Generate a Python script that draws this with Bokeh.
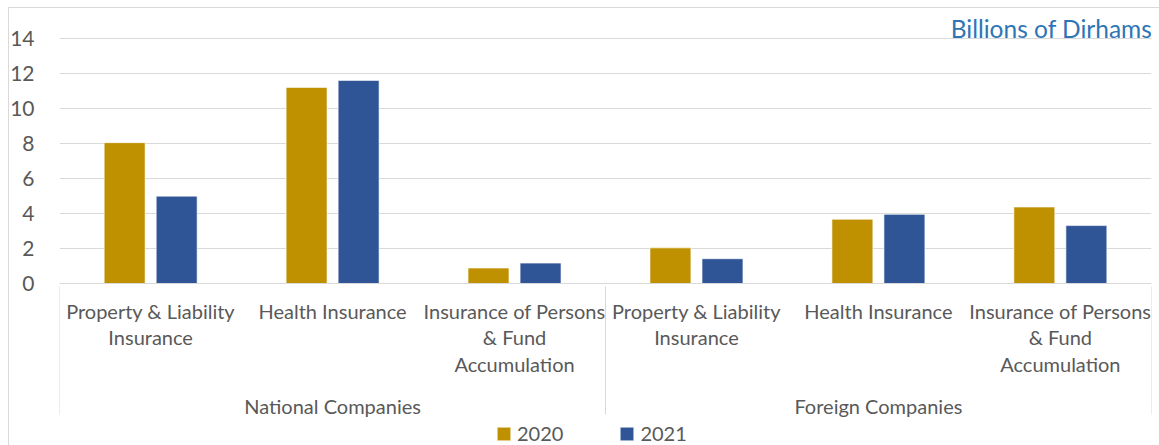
from bokeh.plotting import figure
from bokeh.models import (FactorRange, ColumnDataSource, Legend, LegendItem,
                          Label, FixedTicker)
from bokeh.transform import dodge
from bokeh.embed import file_html
from bokeh.resources import INLINE

# ---- data ----
groups = ["National Companies", "Foreign Companies"]
types = ["Property & Liability\nInsurance", "Health Insurance",
         "Insurance of Persons\n& Fund\nAccumulation"]
years = ["2020", "2021"]
v2020 = [8.05, 11.2, 0.9, 2.05, 3.68, 4.38]
v2021 = [5.0, 11.6, 1.18, 1.43, 3.96, 3.32]
y_ticks = [0, 2, 4, 6, 8, 10, 12, 14]
unit_label = "Billions of Dirhams"

# ---- styles ----
FONT = "Lato"
GOLD = "#BF9000"
BLUE = "#2F5597"
TXT = "#595959"
GRID = "#D9D9D9"

factors = [(g, t) for g in groups for t in types]
# hidden edge groups so that the axis draws its bracket lines at both ends
pad_l, pad_r = (" ", " "), ("  ", " ")
all_factors = [pad_l] + factors + [pad_r]
src = ColumnDataSource(dict(x=factors, v2020=v2020, v2021=v2021))

# the frame runs down to the page bottom; the category axis is fixed at y=0
p = figure(frame_width=1092, frame_height=430,
           x_range=FactorRange(*all_factors, group_padding=0, factor_padding=0,
                               range_padding=-0.999,
                               range_padding_units="absolute"),
           y_range=(-9.22, 15.3),
           output_backend="svg", toolbar_location=None,
           min_border_left=59, min_border_right=8, min_border_top=15,
           min_border_bottom=0)
p.outline_line_color = None
p.background_fill_color = "white"
p.border_fill_alpha = 0
p.styles = {"background": "linear-gradient(#D9D9D9,#D9D9D9) 8px 7px / 1px 100% no-repeat, "
                          "linear-gradient(#D9D9D9,#D9D9D9) 8px 7px / 100% 1px no-repeat, white"}

r1 = p.vbar(x=dodge("x", -0.143, range=p.x_range), top="v2020", width=0.225,
            source=src, fill_color=GOLD, line_color="white", line_alpha=0.6)
r2 = p.vbar(x=dodge("x", 0.143, range=p.x_range), top="v2021", width=0.225,
            source=src, fill_color=BLUE, line_color="white", line_alpha=0.6)

# y axis
p.yaxis.ticker = FixedTicker(ticks=y_ticks)
p.yaxis.axis_line_color = None
p.yaxis.major_tick_line_color = None
p.yaxis.minor_tick_line_color = None
p.yaxis.major_tick_out = 0
p.yaxis.major_label_standoff = 25
p.yaxis.major_label_text_font = FONT
p.yaxis.major_label_text_font_size = "21px"
p.yaxis.major_label_text_color = TXT

p.ygrid.grid_line_color = GRID
p.xgrid.grid_line_color = None

# x axis (in the "below" panel, drawn at y = 0)
xa = p.xaxis[0]
xa.fixed_location = 0
xa.axis_line_color = GRID
xa.major_tick_line_color = None
xa.major_tick_out = 0
xa.major_label_standoff = 15
xa.major_label_text_font = FONT
xa.major_label_text_font_size = "20px"
xa.major_label_text_line_height = 1.1
xa.major_label_text_color = TXT
xa.group_text_font = FONT
xa.group_text_font_size = "20px"
xa.group_text_color = TXT
xa.group_text_font_style = "normal"
xa.separator_line_color = GRID
xa.separator_line_width = 1

# unit label
p.add_layout(Label(x=7, y=14, text=unit_label, text_align="right",
                   text_baseline="bottom", text_font=FONT,
                   text_font_size="24.5px", text_color="#2E75B6",
                   x_offset=1, y_offset=-5))

legend = Legend(items=[LegendItem(label=years[0], renderers=[r1]),
                       LegendItem(label=years[1], renderers=[r2])],
                orientation="horizontal", location=(436, 0),
                glyph_width=17, glyph_height=17, label_standoff=5, spacing=55,
                label_text_font=FONT, label_text_font_size="20px",
                label_text_color=TXT, border_line_color=None,
                background_fill_alpha=0, padding=0, margin=0)
p.add_layout(legend, "center")

open("out.html", "w").write(file_html(p, INLINE))
